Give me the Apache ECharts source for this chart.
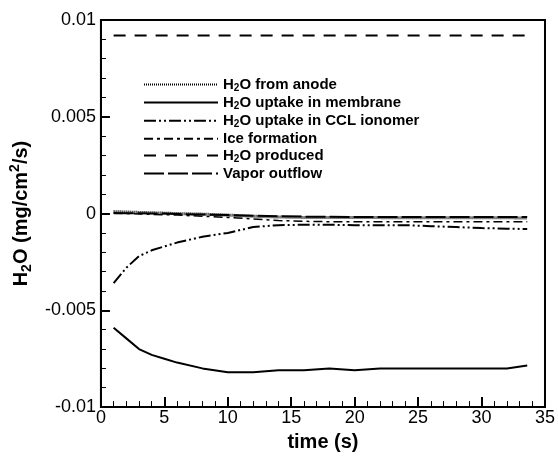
<!DOCTYPE html>
<html>
<head>
<meta charset="utf-8">
<script src="https://cdn.jsdelivr.net/npm/echarts@6/dist/echarts.min.js"></script>
<style>html,body{margin:0;padding:0;background:#fff}#c{width:558px;height:457px}</style>
</head>
<body>
<div id="c"></div>
<script>
const time = [1,2,3,4,5,6,8,10,12,14,16,18,20,22,24,26,28,30,32,33.6];
const anode    = [0.0001,0.00008,0.00006,0.00004,0.00002,0,-0.00003,-0.00008,-0.00014,-0.00018,-0.0002,-0.0002,-0.0002,-0.00021,-0.00022,-0.00022,-0.00022,-0.00022,-0.00022,-0.00023];
const membrane = [-0.0059,-0.00645,-0.0070,-0.0073,-0.0075,-0.0077,-0.0080,-0.0082,-0.0082,-0.0081,-0.0081,-0.0080,-0.0081,-0.0080,-0.0080,-0.0080,-0.0080,-0.0080,-0.0080,-0.00785];
const ccl      = [-0.0036,-0.0028,-0.0022,-0.0019,-0.0017,-0.0015,-0.0012,-0.0010,-0.0007,-0.0006,-0.00058,-0.00058,-0.0006,-0.0006,-0.0006,-0.00065,-0.0007,-0.00075,-0.00078,-0.0008];
const ice      = [0,0,-0.00002,-0.00004,-0.00006,-0.00008,-0.00014,-0.0002,-0.00028,-0.00036,-0.0004,-0.00042,-0.00043,-0.00043,-0.00043,-0.00043,-0.00043,-0.00043,-0.00043,-0.00043];
const produced = [0.0092,0.0092,0.0092,0.0092,0.0092,0.0092,0.0092,0.0092,0.0092,0.0092,0.0092,0.0092,0.0092,0.0092,0.0092,0.0092,0.0092,0.0092,0.0092,0.0092];
const vapor    = [0.00003,0.00002,0.00001,0,0,-0.00002,-0.00005,-0.00008,-0.00011,-0.00014,-0.00016,-0.00017,-0.00018,-0.00018,-0.00018,-0.00018,-0.00018,-0.00018,-0.00018,-0.00018];
const seriesNames = ['H2O from anode','H2O uptake in membrane','H2O uptake in CCL ionomer','Ice formation','H2O produced','Vapor outflow'];
const xTicks = [0,5,10,15,20,25,30,35];
const yTicks = [-0.01,-0.005,0,0.005,0.01];

const chart = echarts.init(document.getElementById('c'));
const pair = a => time.map((t,i)=>[t,a[i]]);
const styles = [
  {type:[1,1], width:3},
  {type:'solid', width:2},
  {type:[12,3,2,3,2,3], width:2},
  {type:[9,4,3,4], width:1.5},
  {type:[12,9], width:2},
  {type:[20,4], width:2}
];
const datas = [anode,membrane,ccl,ice,produced,vapor];
const series = seriesNames.map((n,i)=>({
  name:n, type:'line', data:pair(datas[i]), showSymbol:false, symbol:'none',
  lineStyle:Object.assign({color:'#000'}, styles[i]), itemStyle:{color:'#000'}
}));
function fmtName(n){
  if(n.startsWith('H2O')) return '{a|H}{s|2}{a|O' + n.slice(3) + '}';
  return '{a|' + n + '}';
}
const FF = 'Liberation Sans';
chart.setOption({
  animation:false,
  grid:{left:97, top:20, right:13, bottom:44, show:true, borderColor:'#000', borderWidth:2},
  legend:{
    left:138, top:72, orient:'vertical', itemWidth:74, itemHeight:12, itemGap:1.6,
    data:seriesNames,
    formatter:fmtName,
    itemStyle:{opacity:0},
    lineStyle:{opacity:1},
    textStyle:{fontFamily:FF, fontWeight:'bold', fontSize:15, color:'#000',
      rich:{
        a:{fontFamily:FF, fontWeight:'bold', fontSize:15, color:'#000', lineHeight:18},
        s:{fontFamily:FF, fontWeight:'bold', fontSize:10, color:'#000', lineHeight:8, verticalAlign:'bottom'}
      }}
  },
  xAxis:{
    type:'value', min:0, max:35, interval:5,
    axisLine:{show:true, onZero:false, lineStyle:{color:'#000', width:2}},
    axisTick:{inside:true, length:10, lineStyle:{color:'#000', width:2}},
    minorTick:{show:true, splitNumber:5, length:6, lineStyle:{color:'#000', width:1}},
    splitLine:{show:false},
    axisLabel:{fontFamily:FF, fontSize:18, color:'#000', margin:2},
    name:'time (s)', nameLocation:'middle', nameGap:22,
    nameTextStyle:{fontFamily:FF, fontWeight:'bold', fontSize:20, color:'#000'}
  },
  yAxis:{
    type:'value', min:-0.01, max:0.01, interval:0.005,
    axisLine:{show:true, onZero:false, lineStyle:{color:'#000', width:2}},
    axisTick:{inside:true, length:9, lineStyle:{color:'#000', width:2}},
    minorTick:{show:true, splitNumber:5, length:5, lineStyle:{color:'#000', width:1}},
    splitLine:{show:false},
    axisLabel:{fontFamily:FF, fontSize:18, color:'#000', margin:5,
      formatter:v=>String(parseFloat(v.toFixed(4)))},
    name:'{a|H}{s|2}{a|O (mg/cm}{p|2}{a|/s)}', nameLocation:'middle', nameGap:62, nameRotate:90,
    nameTextStyle:{fontFamily:FF, fontWeight:'bold', fontSize:20, color:'#000',
      rich:{
        a:{fontFamily:FF, fontWeight:'bold', fontSize:20, color:'#000', lineHeight:26},
        s:{fontFamily:FF, fontWeight:'bold', fontSize:14, color:'#000', lineHeight:12, verticalAlign:'bottom'},
        p:{fontFamily:FF, fontWeight:'bold', fontSize:14, color:'#000', lineHeight:12, verticalAlign:'top'}
      }}
  },
  series:series
});
</script>
</body>
</html>
